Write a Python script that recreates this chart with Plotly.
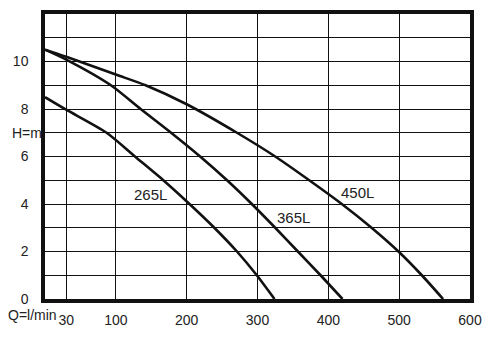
import plotly.graph_objects as go

# Pump curves: Q (l/min) vs H (m)
q_265 = [0, 30, 87, 127, 167, 204, 239, 271, 299, 324]
h_265 = [8.5, 7.97, 7.0, 6.0, 5.0, 4.0, 3.0, 2.0, 1.0, 0]

q_365 = [0, 30, 93, 135, 178, 219, 257, 292, 325, 357, 389, 420]
h_365 = [10.5, 10.08, 9.0, 8.0, 7.0, 6.0, 5.0, 4.0, 3.0, 2.0, 1.0, 0]

q_450 = [0, 30, 100, 142, 200, 271, 325, 373, 419, 461, 499, 532, 562]
h_450 = [10.5, 10.2, 9.45, 9.0, 8.2, 7.0, 6.0, 5.0, 4.0, 3.0, 2.0, 1.0, 0]

curve_names = ["265L", "365L", "450L"]
label_q = [149, 351, 441]
label_h = [4.4, 3.45, 4.5]

x_ticks = [30, 100, 200, 300, 400, 500, 600]
y_ticks = list(range(0, 13))
y_ticktext = ["0", "", "2", "", "4", "", "6", "", "8", "", "10", "", ""]

FONT = "Liberation Sans, Arial"

fig = go.Figure()
for q, h, name in zip([q_265, q_365, q_450], [h_265, h_365, h_450], curve_names):
    fig.add_trace(go.Scatter(x=q, y=h, mode="lines", name=name,
                             line=dict(color="#111111", width=2.6, shape="spline", smoothing=0.7),
                             showlegend=False, hoverinfo="skip"))

for name, qx, hy in zip(curve_names, label_q, label_h):
    fig.add_annotation(x=qx, y=hy, text=name, showarrow=False,
                       font=dict(size=15, color="#222222", family=FONT),
                       xanchor="center", yanchor="middle")

fig.add_annotation(x=0, y=7, xref="paper", yref="y", text="H=m", showarrow=False,
                   xanchor="right", yanchor="middle", xshift=-1,
                   font=dict(size=14, color="#222222", family=FONT))
fig.add_annotation(x=0, y=0, xref="paper", yref="paper", text="Q=l/min", showarrow=False,
                   xanchor="right", yanchor="top", xshift=14, yshift=-6,
                   font=dict(size=14, color="#222222", family=FONT))

fig.update_xaxes(range=[0, 600], tickvals=x_ticks, ticktext=[str(v) for v in x_ticks],
                 showgrid=True, gridcolor="#111111", gridwidth=1.3,
                 showline=True, linecolor="#111111", linewidth=3.5, mirror=True,
                 zeroline=False, ticks="", ticklabelstandoff=5,
                 tickfont=dict(size=14, color="#222222", family=FONT))
fig.update_yaxes(range=[0, 12], tickvals=y_ticks, ticktext=y_ticktext,
                 showgrid=True, gridcolor="#111111", gridwidth=1.3,
                 showline=True, linecolor="#111111", linewidth=3.5, mirror=True,
                 zeroline=False, ticks="", ticklabelstandoff=10,
                 tickfont=dict(size=14, color="#222222", family=FONT))

fig.update_layout(width=494, height=338, margin=dict(l=45, r=24, t=10, b=25),
                  paper_bgcolor="white", plot_bgcolor="white")

fig.write_html("out.html")
